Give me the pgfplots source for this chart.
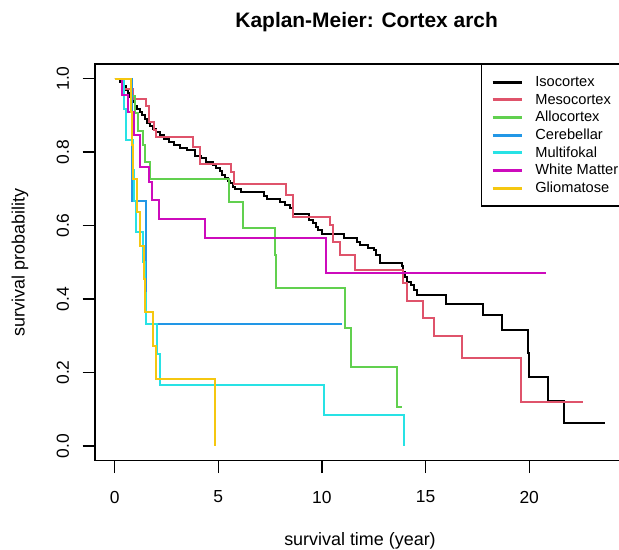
\documentclass[border=0pt]{standalone}
\usepackage{fontspec}
\setmainfont{Liberation Sans}
\usepackage{pgfplots}
\pgfplotsset{compat=1.18}

\definecolor{rblack}{HTML}{000000}
\definecolor{rred}{HTML}{DF536B}
\definecolor{rgreen}{HTML}{61D04F}
\definecolor{rblue}{HTML}{2297E6}
\definecolor{rcyan}{HTML}{28E2E5}
\definecolor{rmagenta}{HTML}{CD0BBC}
\definecolor{ryellow}{HTML}{F5C710}

\begin{document}
\begin{tikzpicture}
\path[use as bounding box] (-57bp,-53bp) rectangle (314.4bp,276.4bp);
\begin{axis}[
  at={(0,0)}, anchor=south west,
  scale only axis,
  width=318bp, height=238.1bp,
  xmin=-0.947, xmax=24.62,
  ymin=-0.04, ymax=1.04,
  axis line style={line width=0.9bp},
  xtick={0,5,10,15,20},
  xticklabels={0,5,10,15,20},
  ytick={0,0.2,0.4,0.6,0.8,1.0},
  yticklabels={0.0,0.2,0.4,0.6,0.8,1.0},
  xtick pos=bottom, ytick pos=left,
  tick align=outside,
  major tick length=7.4bp,
  tick style={line width=0.8bp, black},
  /pgf/number format/assume math mode=true,
  tick label style={font=\fontsize{10.5}{12}\selectfont},
  xticklabel style={anchor=center, yshift=-14.4bp},
  yticklabel style={anchor=center, xshift=-11.8bp, rotate=90},
  xlabel={survival time (year)},
  ylabel={survival probability},
  label style={font=\fontsize{10.8}{12}\selectfont},
  xlabel style={at={(axis description cs:0.5,0)}, anchor=center, yshift=-48bp},
  ylabel style={at={(axis description cs:0,0.5)}, anchor=center, yshift=45bp},
  title={Kaplan-Meier: Cortex arch},
  title style={at={(axis description cs:0.5,1)}, anchor=center, yshift=19.1bp, xshift=4bp,
    font=\bfseries\fontsize{12.6}{14}\selectfont},
  legend cell align=left,
  legend image code/.code={\draw[#1, line width=1.8bp] (0bp,0bp) -- (17.4bp,0bp);},
  legend style={at={(0.7277,1)}, anchor=north west,
    draw=black, line width=0.8bp,
    font=\fontsize{8.8}{10}\selectfont,
    inner xsep=5.8bp, inner ysep=6.2bp,
    row sep=1.6bp, column sep=7.4bp,
    nodes={inner sep=0pt, text height=7bp, text depth=2bp}},
  every axis plot/.append style={const plot, mark=none, line width=1.2bp},
]
% Isocortex
\addplot[rblack] coordinates {
(0,1)(0.25,0.99)(0.45,0.98)(0.55,0.97)(0.65,0.96)(0.75,0.95)(0.87,0.937)
(1.0,0.926)(1.1,0.918)(1.2,0.91)(1.3,0.9)(1.45,0.89)(1.55,0.88)(1.7,0.872)
(1.85,0.862)(2.0,0.855)(2.2,0.845)(2.4,0.835)(2.6,0.826)(2.85,0.818)(3.14,0.81)
(3.5,0.805)(3.9,0.79)(4.19,0.783)(4.43,0.774)(4.75,0.765)(4.9,0.756)(5.07,0.747)
(5.2,0.738)(5.31,0.728)(5.45,0.72)(5.56,0.715)(5.7,0.706)(5.8,0.70)(6.12,0.69)
(7.2,0.68)(7.33,0.671)(7.97,0.665)(8.21,0.656)(8.45,0.647)(8.62,0.63)(9.4,0.615)
(9.58,0.606)(9.7,0.597)(9.82,0.588)(9.98,0.576)(11.06,0.565)(11.68,0.556)
(11.84,0.547)(12.2,0.538)(12.5,0.533)(12.6,0.52)(12.8,0.497)(13.85,0.49)
(13.9,0.474)(14.0,0.461)(14.1,0.447)(14.3,0.438)(14.45,0.424)(14.57,0.411)
(16.0,0.386)(17.79,0.356)(18.68,0.316)(19.93,0.252)(20.0,0.189)(20.9,0.123)
(21.69,0.062)(23.67,0.062)
};
\addlegendentry{Isocortex}
% Mesocortex
\addplot[rred] coordinates {
(0,1)(0.4,0.972)(0.9,0.944)(1.5,0.925)(1.65,0.883)(1.9,0.86)(2.0,0.84)
(3.78,0.815)(4.1,0.767)(5.59,0.745)(5.75,0.712)(8.29,0.683)(8.6,0.622)
(10.39,0.601)(10.55,0.556)(10.87,0.519)(11.6,0.48)(13.93,0.443)(14.09,0.395)
(14.86,0.349)(15.43,0.298)(16.78,0.239)(19.6,0.119)(22.6,0.119)
};
\addlegendentry{Mesocortex}
% Allocortex
\addplot[rgreen] coordinates {
(0,1)(0.8,0.952)(1.0,0.905)(1.15,0.857)(1.35,0.819)(1.45,0.774)(1.7,0.726)
(5.53,0.663)(6.17,0.592)(7.73,0.52)(7.78,0.429)(11.11,0.322)(11.38,0.214)
(13.6,0.105)(13.85,0.105)
};
\addlegendentry{Allocortex}
% Cerebellar
\addplot[rblue] coordinates {
(0,1)(0.85,0.667)(1.53,0.333)(10.95,0.333)
};
\addlegendentry{Cerebellar}
% Multifokal
\addplot[rcyan] coordinates {
(0,1)(0.45,0.917)(0.56,0.833)(0.88,0.75)(0.95,0.667)(1.05,0.583)(1.37,0.5)
(1.45,0.417)(1.53,0.333)(2.03,0.25)(2.19,0.167)(10.11,0.083)(13.96,0)
};
\addlegendentry{Multifokal}
% White Matter
\addplot[rmagenta] coordinates {
(0,1)(0.35,0.955)(0.65,0.91)(0.95,0.846)(1.2,0.76)(1.67,0.719)(1.78,0.669)
(2.16,0.617)(4.36,0.565)(10.19,0.472)(20.83,0.472)
};
\addlegendentry{White Matter}
% Gliomatose
\addplot[ryellow] coordinates {
(0,1)(0.8,0.909)(0.85,0.818)(0.9,0.727)(1.07,0.636)(1.23,0.545)(1.44,0.455)
(1.47,0.364)(1.86,0.273)(1.98,0.182)(4.84,0)
};
\addlegendentry{Gliomatose}
\end{axis}
\end{tikzpicture}
\end{document}
